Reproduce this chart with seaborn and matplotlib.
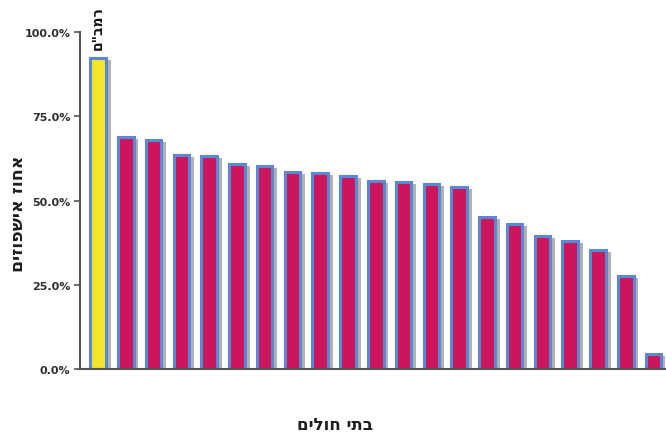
import matplotlib
matplotlib.use("Agg")
import matplotlib.pyplot as plt
import matplotlib.patheffects as pe
from matplotlib.ticker import PercentFormatter
import seaborn as sns
import pandas as pd

# Hospitalisation rate per hospital (share of admissions), sorted descending
hospitals = ["רמב\"ם", "ב", "ג", "ד", "ה", "ו", "ז", "ח", "ט", "י", "יא",
             "יב", "יג", "יד", "טו", "טז", "יז", "יח", "יט", "כ", "כא"]
rates = [92.3, 69.0, 68.0, 63.5, 63.2, 61.0, 60.3, 58.6, 58.3, 57.4, 55.9,
         55.6, 55.0, 54.0, 45.2, 43.0, 39.6, 38.0, 35.5, 27.6, 4.4]
highlight = ["רמב\"ם"]

YELLOW = "#F3E62A"
MAGENTA = "#CC165C"
EDGE = "#5A88D4"
TEXT = "#2E2E2E"


def rtl(s):
    # matplotlib has no bidi support: lay Hebrew out visually
    return s[::-1]


df = pd.DataFrame({"hospital": hospitals, "rate": rates})
df["group"] = ["highlight" if h in highlight else "other" for h in df["hospital"]]

sns.set_theme(style="white")
plt.rcParams["font.family"] = ["DejaVu Sans"]

fig = plt.figure(figsize=(6.66, 4.35), dpi=100)
ax = fig.add_axes([0.120, 0.149, 0.878, 0.775])

sns.barplot(data=df, x="hospital", y="rate", hue="group",
            palette={"highlight": YELLOW, "other": MAGENTA}, saturation=1,
            width=0.56, legend=False, ax=ax, order=hospitals)

for bar in ax.patches:
    bar.set_edgecolor(EDGE)
    bar.set_linewidth(2.2)
    bar.set_path_effects([
        pe.SimplePatchShadow(offset=(3.5, -1.5), shadow_rgbFace="#666666", alpha=0.5),
        pe.Normal(),
    ])

ax.set_ylim(0, 100)
ax.set_xlim(-0.65, 20.4)
ax.set_yticks([0, 25, 50, 75, 100])
ax.yaxis.set_major_formatter(PercentFormatter(100, decimals=1))
ax.set_xticks([])
ax.tick_params(axis="y", left=True, length=4, width=1.2, color="#555555",
               labelsize=8, labelcolor=TEXT, pad=3)
for lbl in ax.get_yticklabels():
    lbl.set_fontweight("bold")

for side in ("top", "right"):
    ax.spines[side].set_visible(False)
for side in ("left", "bottom"):
    ax.spines[side].set_color("#555555")
    ax.spines[side].set_linewidth(1.5)

ax.set_xlabel(rtl("בתי חולים"), fontsize=12, fontweight="bold", color="#1E1E1E")
ax.xaxis.set_label_coords(0.437, -0.135)
ax.set_ylabel(rtl("אחוז אישפוזים"), fontsize=12.5, fontweight="bold", color="#1E1E1E")
ax.yaxis.set_label_coords(-0.090, 0.463)

# name above the highlighted hospital
for i, h in enumerate(hospitals):
    if h in highlight:
        ax.text(i, rates[i] + 2.8, rtl(h), rotation=90, ha="center", va="bottom",
                fontsize=10, fontweight="bold", color="#111111")

fig.savefig("out.png", dpi=100)
